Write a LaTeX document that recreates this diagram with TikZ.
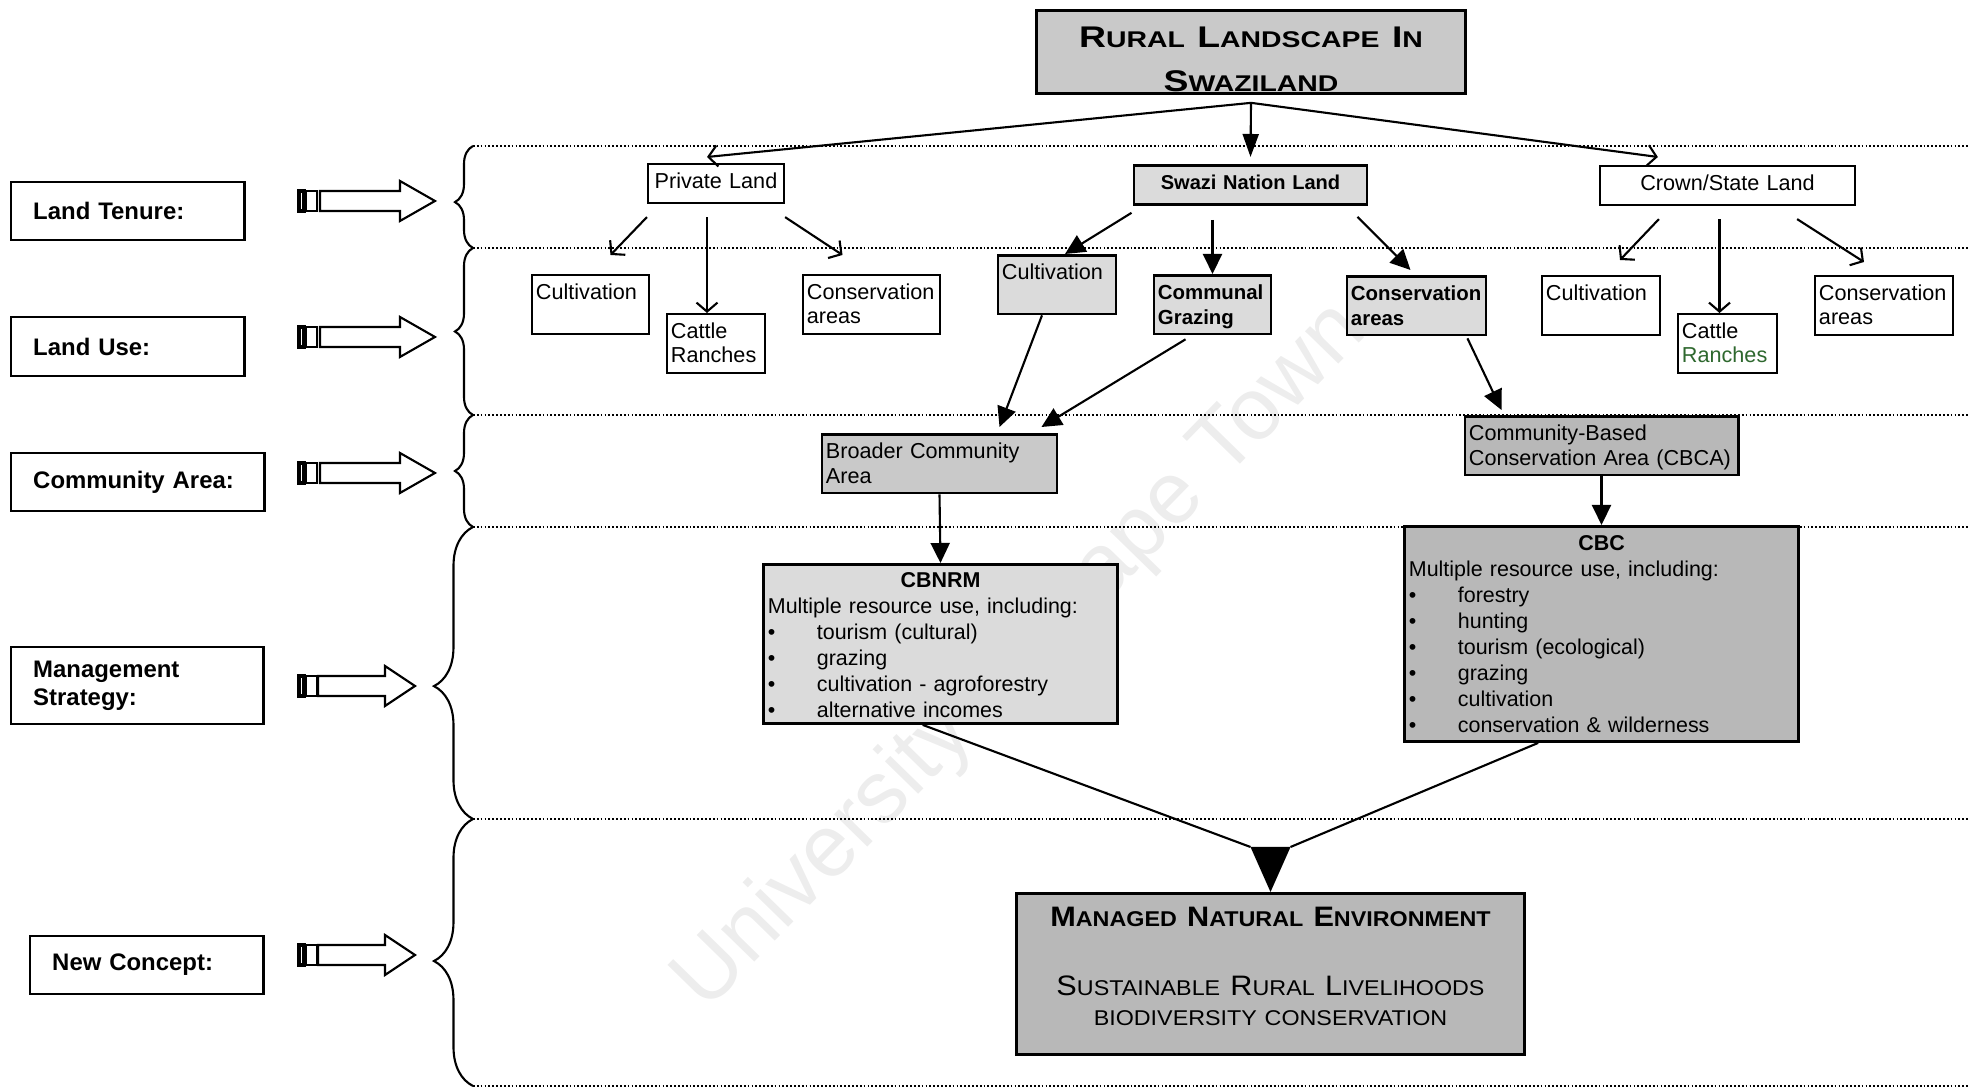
\documentclass[tikz,border=0pt]{standalone}
\usepackage{fontspec}
\setmainfont{Liberation Sans}
\usepackage{graphicx}
\usetikzlibrary{arrows.meta,positioning,calc,decorations.pathreplacing}
\definecolor{shadelt}{gray}{0.86}
\definecolor{shademd}{gray}{0.79}
\definecolor{shadedk}{gray}{0.72}
\definecolor{ranchgreen}{RGB}{46,104,46}
\newcommand\lc[1]{\scalebox{0.76}{#1}}
\newcommand\bul{\makebox[0.49cm][l]{\textbullet}}

\begin{document}
\begin{tikzpicture}[x=0.01cm, y=-0.01cm,
  lab/.style={draw, line width=0.7pt, anchor=west, align=left, inner xsep=0.22cm, font=\fontsize{6.8}{8}\selectfont\bfseries},
  box/.style={draw, fill=white, line width=0.6pt, anchor=north, align=left, inner xsep=0.04cm, inner ysep=0pt, text height=0.24cm, text depth=0.345cm, text width=#1, font=\fontsize{6.15}{7}\selectfont},
  sbox/.style={box=#1, fill=shadelt, line width=0.8pt},
  land/.style={box=#1, align=center, text depth=0.15cm},
  mgmt/.style={draw, fill=shadelt, line width=0.8pt, anchor=north, align=left, inner xsep=0.04cm, inner ysep=0pt, text width=#1, font=\fontsize{6.1}{7.4}\selectfont},
  bold/.style={font=\fontsize{5.8}{7}\selectfont\bfseries},
  band/.style={dash pattern=on 0.5pt off 0.6pt, line width=0.5pt},
  brc/.style 2 args={decorate, decoration={brace, amplitude=#1, aspect=#2}, line width=0.6pt},
  ln/.style={line width=0.6pt},
  opn/.style={ln, -{Straight Barb[length=0.09cm, width=0.21cm]}},
  fil/.style={ln, -{Triangle[length=0.2cm, width=0.19cm]}}]
  \useasboundingbox (0,0) rectangle (1969,1089);

  \node[rotate=45.7, text=gray!14, font=\fontsize{25}{25}\selectfont] (wmark) at (1021,657) {University of Cape Town};

  \foreach \yy in {146,248,415,527,819,1086}
    \draw[band] (473,\yy) -- (1969,\yy);
  \foreach \ya/\yb/\amp/\asp in {146/248/0.18cm/0.45, 248/415/0.18cm/0.5, 415/527/0.18cm/0.5, 527/819/0.39cm/0.455, 819/1086/0.39cm/0.468}
    \draw[brc={\amp}{\asp}] (473,\yb) -- (473,\ya);

  \node[lab, text width=1.89cm, minimum height=0.58cm] (tenure) at (10,211) {Land Tenure:};
  \node[lab, text width=1.89cm, minimum height=0.59cm] (landuse) at (10,346.5) {Land Use:};
  \node[lab, text width=2.09cm, minimum height=0.58cm] (commarea) at (10,482) {Community Area:};
  \node[lab, text width=2.08cm, minimum height=0.77cm] (strategy) at (10,685.5) {Management\\Strategy:};
  \node[lab, text width=1.89cm, minimum height=0.58cm] (concept) at (29,965) {New Concept:};

  \foreach \yy/\xs/\xh/\xt in {201/320/400/435, 337/320/400/435, 473/320/400/435, 686/318/385/415, 955/318/385/415} {
    \draw[line width=0.9pt] (299,\yy-10) rectangle (304,\yy+10);
    \draw[ln] (306,\yy-10) rectangle (317,\yy+10);
    \draw[ln] (\xs,\yy-10) -- (\xh,\yy-10) -- (\xh,\yy-20) -- (\xt,\yy) -- (\xh,\yy+20) -- (\xh,\yy+10) -- (\xs,\yy+10) -- cycle;
  }

  \node[draw, fill=shademd, line width=0.8pt, anchor=north, inner xsep=0.04cm, inner ysep=0pt, text width=4.2cm, text height=0.37cm, text depth=0.46cm, align=center, font=\fontsize{8.5}{12.5}\selectfont\bfseries] (title) at (1251,9)
    {\scalebox{1.25}[1]{R\lc{URAL} L\lc{ANDSCAPE} I\lc{N}}\\\scalebox{1.25}[1]{S\lc{WAZILAND}}};

  \node[land=1.28cm] (privl) at (716,163) {Private Land};
  \node[land=2.25cm, fill=shadelt, line width=0.8pt, font=\fontsize{5.7}{7}\selectfont\bfseries] (swazi) at (1250.5,164) {Swazi Nation Land};
  \node[land=2.47cm] (crown) at (1727.5,165) {Crown/State Land};

  \node[box=1.09cm] (pcult) at (590.5,274) {Cultivation};
  \node[box=0.90cm] (pcattle) at (716,313) {Cattle\\Ranches};
  \node[box=1.29cm] (pcons) at (871.5,274) {Conservation\\areas};
  \node[sbox=1.10cm] (scult) at (1057,254) {Cultivation};
  \node[sbox=1.09cm, bold] (scomm) at (1212.5,274) {Communal\\Grazing};
  \node[sbox=1.31cm, bold] (scons) at (1416.5,275) {Conservation\\areas};
  \node[box=1.10cm] (ccult) at (1601,275) {Cultivation};
  \node[box=0.91cm] (ccattle) at (1727.5,313) {Cattle\\\textcolor{ranchgreen}{Ranches}};
  \node[box=1.30cm] (ccons) at (1884,275) {Conservation\\areas};

  \node[sbox=2.27cm, fill=shademd] (broad) at (939.5,433) {Broader Community\\Area};
  \node[sbox=2.65cm, fill=shadedk] (cbca) at (1601.5,415) {Community-Based\\Conservation Area (CBCA)};

  \node[mgmt=3.45cm, text height=0.23cm, text depth=1.36cm] (cbnrm) at (940.5,563)
    {\makebox[\linewidth]{\bfseries CBNRM}\\
     Multiple resource use, including:\\
     \bul tourism (cultural)\\
     \bul grazing\\
     \bul cultivation - agroforestry\\
     \bul alternative incomes};
  \node[mgmt=3.85cm, fill=shadedk, text height=0.24cm, text depth=1.91cm] (cbc) at (1601.5,525)
    {\makebox[\linewidth]{\bfseries CBC}\\
     Multiple resource use, including:\\
     \bul forestry\\
     \bul hunting\\
     \bul tourism (ecological)\\
     \bul grazing\\
     \bul cultivation\\
     \bul conservation \& wilderness};

  \node[draw, fill=shadedk, line width=0.8pt, anchor=north, inner xsep=0.04cm, inner ysep=0pt, text width=4.99cm, text height=0.33cm, text depth=1.28cm, align=center, font=\fontsize{8}{8.5}\selectfont] (managed) at (1270.5,892)
    {\scalebox{1.09}[1]{\bfseries M\lc{ANAGED} N\lc{ATURAL} E\lc{NVIRONMENT}}\\[0.39cm]
     \scalebox{1.09}[1]{S\lc{USTAINABLE} R\lc{URAL} L\lc{IVELIHOODS}}\\
     \scalebox{1.09}[1]{\lc{BIODIVERSITY CONSERVATION}}};

  \coordinate (split) at ($(title.south)+(0,8)$);
  \draw[opn] (split) -- ($(privl.north)+(-9,-6)$);
  \draw[ln, -{Triangle[length=0.23cm, width=0.16cm]}] (split) -- ($(swazi.north)+(0,-7)$);
  \draw[opn] (split) -- ($(crown.north west)+(59,-8)$);

  \draw[opn] ($(privl.south west)+(0,13)$) -- ($(pcult.north)+(20,-19)$);
  \draw[opn] ($(privl.south)+(-9,13)$) -- ($(pcattle.north)+(-9,0)$);
  \draw[opn] ($(privl.south east)+(0,13)$) -- ($(pcons.north)+(-29,-19)$);

  \draw[fil] ($(swazi.south west)+(-1,7)$) -- ($(scult.north)+(8,0)$);
  \draw[fil] ($(swazi.south -| scomm.north)+(0,14)$) -- (scomm.north);
  \draw[fil] ($(swazi.south east)+(-11,11)$) -- ($(scons.north)+(-6,-5)$);

  \draw[opn] ($(crown.south west)+(60,13)$) -- ($(ccult.north)+(19,-15)$);
  \draw[opn] ($(crown.south)+(-8,13)$) -- ($(ccattle.north)+(-8,0)$);
  \draw[opn] ($(crown.south east)+(-59,13)$) -- ($(ccons.north)+(-20,-13)$);

  \draw[fil] ($(scult.south)+(-15,0)$) -- ($(broad.north)+(60,-6)$);
  \draw[fil] ($(scomm.south)+(-27,4)$) -- ($(broad.north east)+(-17,-6)$);
  \draw[fil] ($(scons.south east)+(-20,2)$) -- ($(cbca.north west)+(38,-5)$);
  \draw[fil] (broad.south) -- (cbnrm.north);
  \draw[fil] (cbca.south) -- (cbc.north);

  \coordinate (joinl) at ($(managed.north)+(-20,-45)$);
  \coordinate (joinr) at ($(managed.north)+(20,-45)$);
  \draw[ln] ($(cbnrm.south west)!0.45!(cbnrm.south east)$) -- (joinl);
  \draw[ln] ($(cbc.south west)!0.34!(cbc.south east)$) -- (joinr);
  \fill (joinl) -- (joinr) -- (managed.north) -- cycle;
\end{tikzpicture}
\end{document}
